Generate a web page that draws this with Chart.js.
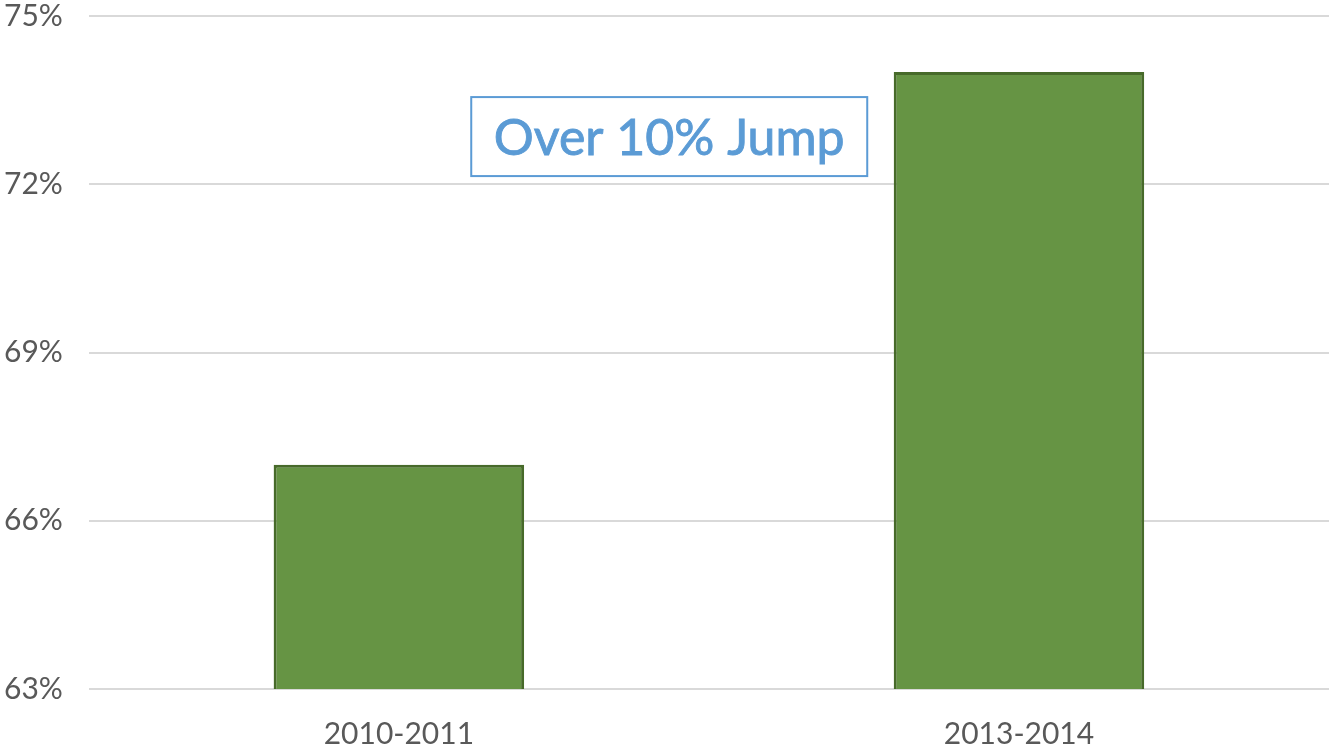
<!DOCTYPE html>
<html><head><meta charset="utf-8">
<script src="https://cdn.jsdelivr.net/npm/chart.js@4/dist/chart.umd.min.js"></script>
<style>html,body{margin:0;padding:0;background:#fff;}#wrap{width:1329px;height:750px;}</style>
</head><body><div id="wrap"><canvas id="c" width="1329" height="750"></canvas></div>
<script>
const categories = ["2010-2011", "2013-2014"];
const values = [67, 74];
const yTicks = [63, 66, 69, 72, 75];
const annotationText = "Over 10% Jump";

const FONT = "Lato, 'Open Sans', sans-serif";
const annot = {
  id: 'annot',
  afterDatasetsDraw(chart) {
    const {ctx, scales} = chart;
    const cx = scales.x.getPixelForValue(0.436);
    const cy = scales.y.getPixelForValue(72.85);
    const w = 396, h = 79;
    ctx.save();
    ctx.fillStyle = '#fff';
    ctx.fillRect(cx - w/2, cy - h/2, w, h);
    ctx.strokeStyle = '#5b9bd5';
    ctx.lineWidth = 2;
    ctx.strokeRect(cx - w/2, cy - h/2, w, h);
    ctx.fillStyle = '#5b9bd5';
    ctx.font = '50px ' + FONT;
    ctx.textAlign = 'center';
    ctx.textBaseline = 'middle';
    ctx.fillText(annotationText, cx, cy + 2);
    ctx.lineWidth = 0.9;
    ctx.strokeText(annotationText, cx, cy + 2);
    ctx.restore();
  }
};

new Chart(document.getElementById('c'), {
  type: 'bar',
  data: {
    labels: categories,
    datasets: [{
      data: values,
      backgroundColor: '#669444',
      borderColor: '#476a2a',
      borderWidth: 3,
      borderSkipped: false,
      barPercentage: 0.404,
      categoryPercentage: 1
    }]
  },
  options: {
    responsive: false,
    animation: false,
    layout: { padding: { top: 16, left: -22, right: 0, bottom: -21 } },
    plugins: { legend: { display: false }, tooltip: { enabled: false } },
    scales: {
      x: {
        grid: { display: false },
        border: { display: false },
        ticks: { color: '#595959', font: { family: FONT, size: 30 }, padding: 19 }
      },
      y: {
        min: 63, max: 75,
        afterBuildTicks(axis) { axis.ticks = yTicks.map(v => ({ value: v })); },
        afterFit(axis) { axis.paddingTop = 0; axis.paddingBottom = 0; },
        grid: { color: '#d9d9d9', lineWidth: 2, drawTicks: false },
        border: { display: false },
        ticks: { color: '#595959', font: { family: FONT, size: 30 }, padding: 26, callback: v => v + '%' }
      }
    }
  },
  plugins: [annot]
});
</script>
</body></html>
